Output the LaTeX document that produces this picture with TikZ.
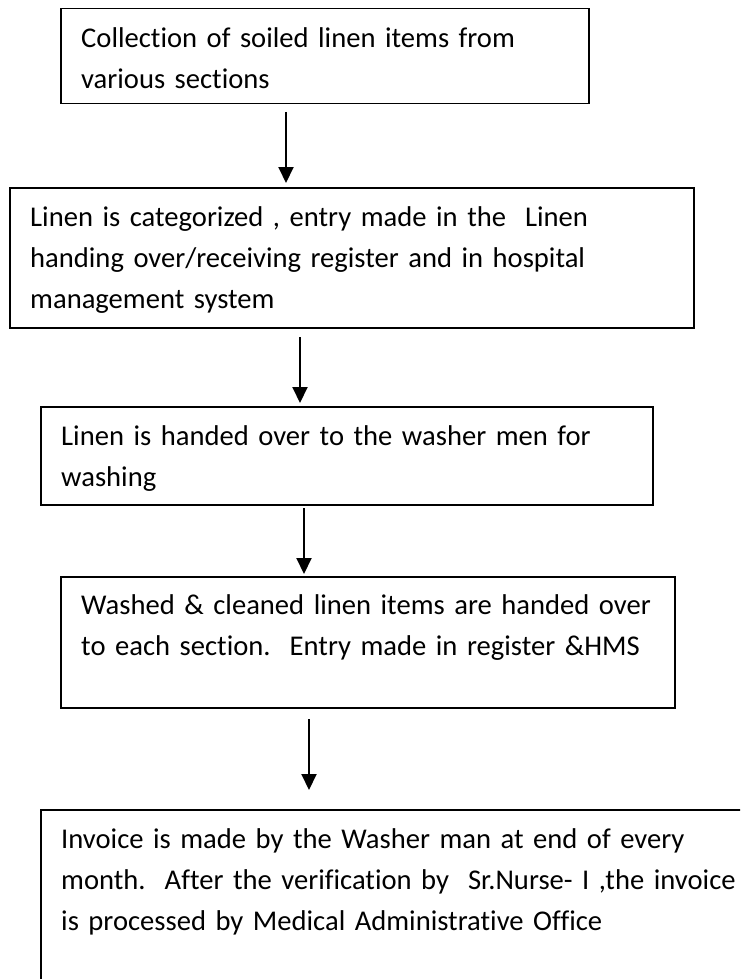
\documentclass[tikz,border=0pt]{standalone}
\usepackage{fontspec}
\setmainfont{Carlito}[Ligatures=NoCommon]
\usetikzlibrary{arrows.meta}
\begin{document}
\begin{tikzpicture}[x=1pt,y=-1pt,
  box/.style={draw=black, line width=1.5pt, anchor=north west, inner sep=0pt},
  txt/.style={anchor=base west, inner sep=0pt, align=left, text width=700pt,
    font=\fontsize{28.6}{41}\selectfont},
  flow/.style={line width=2pt, -{Triangle[width=15pt,length=16pt]}}]
\useasboundingbox (0,0) rectangle (740,979);
\clip (0,0) rectangle (740,979);
\fill[white] (0,0) rectangle (740,979);

% process boxes
\node[box, minimum width=528pt, minimum height=95pt]  (b1) at (60,8)   {};
\node[box, minimum width=684pt, minimum height=140pt] (b2) at (9,187)  {};
\node[box, minimum width=612pt, minimum height=98pt]  (b3) at (40,406) {};
\node[box, minimum width=614pt, minimum height=131pt] (b4) at (60,576) {};
\node[box, minimum width=740pt, minimum height=220pt] (b5) at (40,809) {};

% box texts
\node[txt] (t1) at (81,48)  {Collection of soiled linen items from\\various sections};
\node[txt] (t2) at (30,226) {Linen is categorized , entry made in the\ \ Linen\\handing over/receiving register and in hospital\\management system};
\node[txt] (t3) at (61,445) {Linen is handed over to the washer men for\\washing};
\node[txt] (t4) at (81,614) {Washed \& cleaned linen items are handed over\\to each section.\ \ Entry made in register \&HMS};
\node[txt] (t5) at (61,848) {Invoice is made by the Washer man at end of every\\month.\ \ After the verification by\ \ Sr.Nurse- I ,the invoice\\is processed by Medical Administrative Office};

% connector end points
\coordinate (a1s) at (286,112); \coordinate (a1e) at (286,183);
\coordinate (a2s) at (300,337); \coordinate (a2e) at (300,403);
\coordinate (a3s) at (304,508); \coordinate (a3e) at (304,574);
\coordinate (a4s) at (309,719); \coordinate (a4e) at (309,790);

\draw[flow] (a1s) -- (a1e);
\draw[flow] (a2s) -- (a2e);
\draw[flow] (a3s) -- (a3e);
\draw[flow] (a4s) -- (a4e);
\end{tikzpicture}
\end{document}
